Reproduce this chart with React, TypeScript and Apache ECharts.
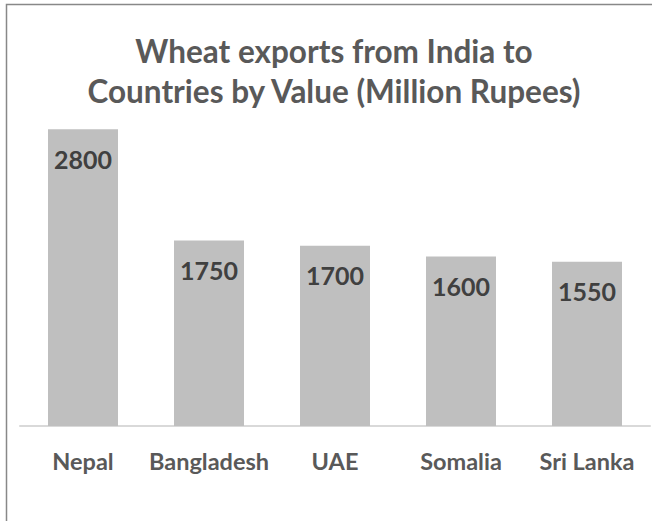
import React, { useEffect, useRef } from "react";
import * as echarts from "echarts";

const categories = ["Nepal", "Bangladesh", "UAE", "Somalia", "Sri Lanka"];
const values = [2800, 1750, 1700, 1600, 1550];
const titleLines = ["Wheat exports from India to", "Countries by Value (Million Rupees)"];

const FONT = "Lato, 'Open Sans', sans-serif";

export default function App() {
  const ref = useRef<HTMLDivElement>(null);
  useEffect(() => {
    if (!ref.current) return;
    const chart = echarts.init(ref.current, undefined, { renderer: "svg" });
    chart.setOption({
      animation: false,
      backgroundColor: "#ffffff",
      title: {
        text: titleLines.join("\n"),
        left: 334,
        top: 31,
        padding: 0,
        textAlign: "center",
        textStyle: {
          fontFamily: FONT,
          fontSize: 31.5,
          fontWeight: "bold",
          color: "#595959",
          lineHeight: 40,
        },
      },
      grid: { left: 20, right: 2, top: 108, bottom: 95, containLabel: false },
      xAxis: {
        type: "category",
        data: categories,
        axisLine: { show: true, lineStyle: { color: "#d9d9d9", width: 2 } },
        axisTick: { show: false },
        axisLabel: {
          interval: 0,
          hideOverlap: false,
          fontFamily: FONT,
          fontSize: 23.5,
          fontWeight: "bold",
          color: "#595959",
          margin: 23,
        },
      },
      yAxis: {
        type: "value",
        min: 0,
        max: 3000,
        show: false,
        splitLine: { show: false },
      },
      series: [
        {
          type: "bar",
          data: values,
          barWidth: 70,
          itemStyle: { color: "#bfbfbf" },
          label: {
            show: true,
            position: "insideTop",
            distance: 17,
            fontFamily: FONT,
            fontSize: 25,
            fontWeight: "bold",
            color: "#404040",
          },
        },
      ],
      graphic: [
        {
          type: "polyline",
          shape: { points: [[6.5, 530], [6.5, 4.5], [660, 4.5]] },
          style: { stroke: "#888888", lineWidth: 1.5, fill: "none" },
          silent: true,
        },
      ],
    });
    return () => chart.dispose();
  }, []);
  return (
    <div
      ref={ref}
      style={{ position: "absolute", left: 0, top: 0, width: 652, height: 521 }}
    />
  );
}
